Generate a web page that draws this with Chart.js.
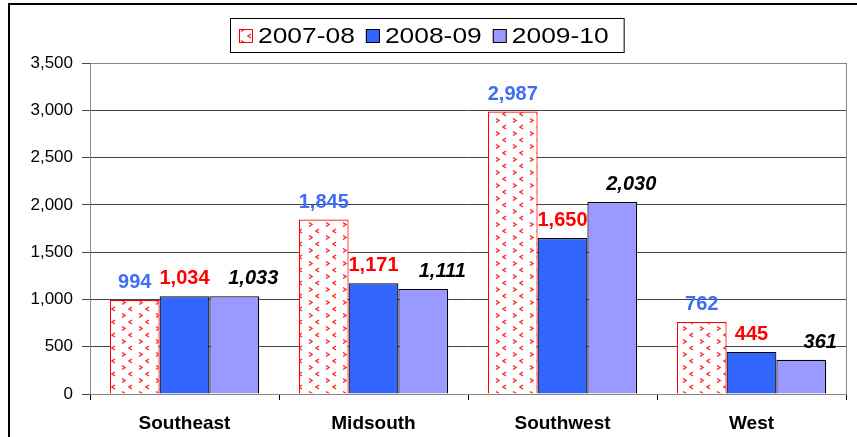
<!DOCTYPE html>
<html lang="en">
<head>
<meta charset="UTF-8">
<title>Regional totals 2007-08 to 2009-10</title>
<script src="https://cdn.jsdelivr.net/npm/chart.js"></script>
<style>
  html, body { margin: 0; padding: 0; background: #fff; overflow: hidden; }
  #wrap { width: 857px; height: 437px; }
</style>
</head>
<body>
<div id="wrap"><canvas id="regionChart" width="857" height="437"></canvas></div>
<script>
// data
const regions = ['Southeast', 'Midsouth', 'Southwest', 'West'];
const years = ['2007-08', '2008-09', '2009-10'];
const vals0708 = [994, 1845, 2987, 762];
const vals0809 = [1034, 1171, 1650, 445];
const vals0910 = [1033, 1111, 2030, 361];
const yMax = 3500;
const yStep = 500;

// styles
const labelColors = ['#3d6ef5', '#ff0000', '#000000'];
const labelItalic = [false, false, true];
const labelShift = [0, 0, 19]; // 2009-10 labels sit right of their bars
const fontFam = '"Liberation Sans", Arial, sans-serif';

// red chevron pattern for 2007-08
function makePattern(ctx) {
    const tile = document.createElement('canvas');
    tile.width = 17; tile.height = 13;
    const t = tile.getContext('2d');
    t.fillStyle = '#fff';
    t.fillRect(0, 0, 17, 13);
    t.strokeStyle = '#ff2a2a';
    t.lineWidth = 1.5;
    t.beginPath(); // '>'
    t.moveTo(3, 1.5); t.lineTo(6, 3.5); t.lineTo(3, 5.5);
    t.stroke();
    t.beginPath(); // '<'
    t.moveTo(13, 8); t.lineTo(10, 10); t.lineTo(13, 12);
    t.stroke();
    return ctx.createPattern(tile, 'repeat');
}

const canvas = document.getElementById('regionChart');
const ctx = canvas.getContext('2d');
const pattern = makePattern(ctx);
const barFills = [pattern, '#3366ff', '#9999ff'];
const barBorders = ['#ff0000', '#000000', '#000000'];

const framePlugin = {
    id: 'frame',
    beforeDraw(chart) {
        const c = chart.ctx;
        c.save();
        c.fillStyle = '#fff';
        c.fillRect(0, 0, chart.width, chart.height);
        c.strokeStyle = '#000';
        c.lineWidth = 2;
        c.strokeRect(9, 4, chart.width + 20, chart.height + 20);
        c.restore();
    },
    beforeDatasetsDraw(chart) {
        const a = chart.chartArea;
        const c = chart.ctx;
        c.save();
        c.strokeStyle = '#888';
        c.lineWidth = 1;
        c.strokeRect(a.left + 0.5, a.top + 0.5, a.right - a.left, a.bottom - a.top);
        c.restore();
    }
};

const valueLabels = {
    id: 'valueLabels',
    afterDatasetsDraw(chart) {
        const c = chart.ctx;
        c.save();
        c.textAlign = 'center';
        c.textBaseline = 'alphabetic';
        chart.data.datasets.forEach((ds, i) => {
            const meta = chart.getDatasetMeta(i);
            c.fillStyle = labelColors[i];
            c.font = (labelItalic[i] ? 'italic ' : '') + 'bold 20px ' + fontFam;
            meta.data.forEach((bar, j) => {
                c.fillText(ds.data[j].toLocaleString('en-US'), bar.x + labelShift[i], bar.y - 12);
            });
        });
        c.restore();
    }
};

// boxed legend across the top
const boxLegend = {
    id: 'boxLegend',
    afterDraw(chart) {
        const c = chart.ctx;
        const sx = 1.2;
        c.save();
        c.font = '22px ' + fontFam;
        const items = chart.data.datasets.map(ds => ({ text: ds.label, w: c.measureText(ds.label).width * sx }));
        const box = 14, gapBox = 5, gapItem = 11, padL = 9, padR = 15;
        let total = padL + padR;
        items.forEach((it, k) => { total += box + gapBox + it.w + (k ? gapItem : 0); });
        const left = Math.round(427 - total / 2);
        const top = 18, h = 34, midY = top + h / 2 + 1;
        c.strokeStyle = '#000';
        c.lineWidth = 1;
        c.strokeRect(left + 0.5, top + 0.5, total, h);
        let x = left + padL;
        items.forEach((it, k) => {
            c.fillStyle = barFills[k];
            c.fillRect(x, midY - box / 2, box, box);
            c.strokeStyle = barBorders[k];
            c.strokeRect(x + 0.5, midY - box / 2 + 0.5, box - 1, box - 1);
            x += box + gapBox;
            c.save();
            c.translate(x, midY);
            c.scale(sx, 1);
            c.fillStyle = '#000';
            c.textBaseline = 'middle';
            c.fillText(it.text, 0, 1);
            c.restore();
            x += it.w + gapItem;
        });
        c.restore();
    }
};

new Chart(ctx, {
    type: 'bar',
    data: {
        labels: regions,
        datasets: [vals0708, vals0809, vals0910].map((vals, i) => ({
            label: years[i],
            data: vals,
            backgroundColor: barFills[i],
            borderColor: barBorders[i],
            borderWidth: 1.2,
            categoryPercentage: 0.79,
            barPercentage: 1.0
        }))
    },
    options: {
        responsive: false,
        animation: false,
        layout: { padding: { top: 63, right: 11, left: 0, bottom: 0 } },
        plugins: {
            legend: { display: false },
            tooltip: { enabled: false }
        },
        scales: {
            x: {
                grid: { drawOnChartArea: false, offset: true, tickLength: 6, color: '#000' },
                border: { color: '#000', width: 1 },
                ticks: { color: '#000', padding: 12, font: { family: fontFam, size: 19, weight: 'bold' } },
                afterFit: s => { s.height = 43; }
            },
            y: {
                min: 0,
                max: yMax,
                grid: { color: '#444', tickLength: 8 },
                border: { color: '#000', width: 1 },
                ticks: {
                    stepSize: yStep,
                    color: '#000',
                    padding: 9,
                    font: { family: fontFam, size: 17 },
                    callback: v => v.toLocaleString('en-US')
                },
                afterFit: s => { s.width = 90; }
            }
        }
    },
    plugins: [framePlugin, valueLabels, boxLegend]
});
</script>
</body>
</html>
